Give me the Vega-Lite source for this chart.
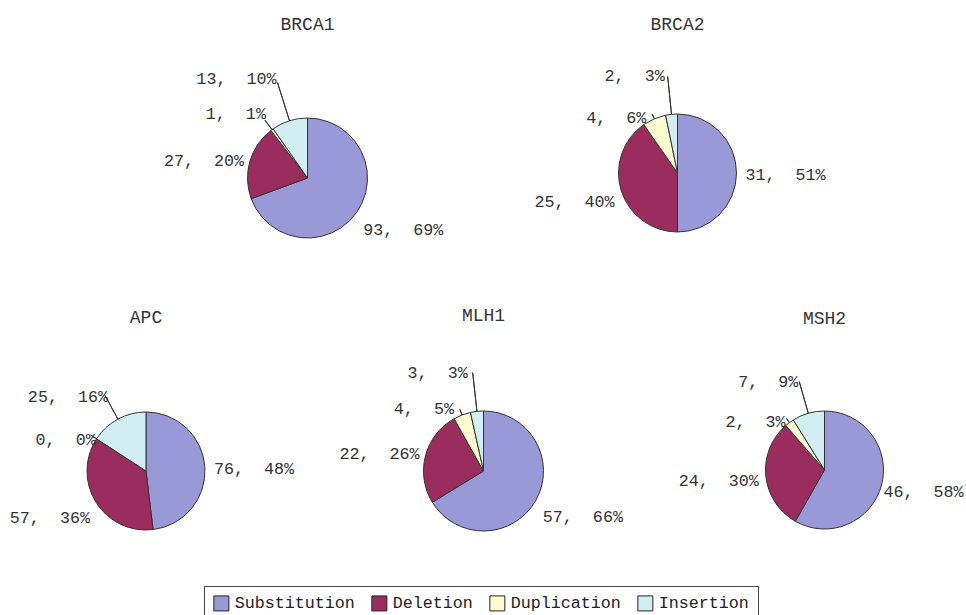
{
  "$schema": "https://vega.github.io/schema/vega-lite/v6.json",
  "padding": 0,
  "autosize": {"type": "pad"},
  "background": "white",
  "bounds": "flush",
  "align": "each",
  "spacing": 0,
  "columns": 3,
  "data": {
    "values": [
      {"gene": "BRCA1", "type": "Substitution", "count": 93, "label": "93,\u00a0 69%"},
      {"gene": "BRCA1", "type": "Deletion", "count": 27, "label": "27,\u00a0 20%"},
      {"gene": "BRCA1", "type": "Duplication", "count": 1, "label": "1,\u00a0 1%"},
      {"gene": "BRCA1", "type": "Insertion", "count": 13, "label": "13,\u00a0 10%"},
      {"gene": "BRCA2", "type": "Substitution", "count": 31, "label": "31,\u00a0 51%"},
      {"gene": "BRCA2", "type": "Deletion", "count": 25, "label": "25,\u00a0 40%"},
      {"gene": "BRCA2", "type": "Duplication", "count": 4, "label": "4,\u00a0 6%"},
      {"gene": "BRCA2", "type": "Insertion", "count": 2, "label": "2,\u00a0 3%"},
      {"gene": "APC", "type": "Substitution", "count": 76, "label": "76,\u00a0 48%"},
      {"gene": "APC", "type": "Deletion", "count": 57, "label": "57,\u00a0 36%"},
      {"gene": "APC", "type": "Duplication", "count": 0, "label": "0,\u00a0 0%"},
      {"gene": "APC", "type": "Insertion", "count": 25, "label": "25,\u00a0 16%"},
      {"gene": "MLH1", "type": "Substitution", "count": 57, "label": "57,\u00a0 66%"},
      {"gene": "MLH1", "type": "Deletion", "count": 22, "label": "22,\u00a0 26%"},
      {"gene": "MLH1", "type": "Duplication", "count": 4, "label": "4,\u00a0 5%"},
      {"gene": "MLH1", "type": "Insertion", "count": 3, "label": "3,\u00a0 3%"},
      {"gene": "MSH2", "type": "Substitution", "count": 46, "label": "46,\u00a0 58%"},
      {"gene": "MSH2", "type": "Deletion", "count": 24, "label": "24,\u00a0 30%"},
      {"gene": "MSH2", "type": "Duplication", "count": 2, "label": "2,\u00a0 3%"},
      {"gene": "MSH2", "type": "Insertion", "count": 7, "label": "7,\u00a0 9%"}
    ]
  },
  "transform": [{"window": [{"op": "row_number", "as": "k"}], "groupby": ["gene"]}],
  "config": {
    "view": {"stroke": null},
    "font": "Liberation Mono",
    "title": {"font": "Liberation Mono", "fontSize": 18, "fontWeight": "normal", "color": "#333", "anchor": "middle"}
  },
  "resolve": {"scale": {"color": "shared"}},
  "concat": [
    {
      "width": 10, "height": 356,
      "data": {"values": []},
      "mark": {"type": "text"},
      "encoding": {"text": {"value": ""}}
    },
    {
      "width": 31, "height": 356,
      "title": {"text": "BRCA1", "offset": -43, "baseline": "middle"},
      "transform": [{"filter": "datum.gene === 'BRCA1'"}],
      "encoding": {"theta": {"field": "count", "type": "quantitative", "stack": true}, "order": {"field": "k", "type": "quantitative"}},
      "layer": [
        {"mark": {"type": "arc", "radius": 60, "stroke": "#333", "strokeWidth": 1},
         "encoding": {"color": {"field": "type", "type": "nominal", "scale": {"domain": ["Substitution", "Deletion", "Duplication", "Insertion"], "range": ["#9a99d8", "#9b2c5e", "#fdfacf", "#d3eef2"]}, "legend": {"orient": "none", "legendX": 204, "legendY": 586, "direction": "horizontal", "title": null, "symbolType": "square", "symbolSize": 225, "symbolStrokeColor": "#222", "symbolStrokeWidth": 1, "symbolOpacity": 1, "labelFont": "Liberation Mono", "labelFontSize": 16.7, "labelColor": "#222", "labelOffset": 5, "columnPadding": 14, "padding": 9, "strokeColor": "#444", "fillColor": "white"}}}},
        {"mark": {"type": "arc", "radius": 100, "radius2": 60, "padAngle": 3.1, "filled": false, "stroke": "#333", "strokeWidth": 1},
         "encoding": {"strokeOpacity": {"condition": {"test": "datum.type === 'Insertion'", "value": 1}, "value": 0}}},
        {"mark": {"type": "arc", "radius": 72, "radius2": 60, "padAngle": 3.1, "filled": false, "stroke": "#333", "strokeWidth": 1},
         "encoding": {"strokeOpacity": {"condition": {"test": "datum.type === 'Duplication'", "value": 1}, "value": 0}}},
        {"mark": {"type": "text", "radius": 68, "align": "left", "baseline": "middle", "dy": 13, "font": "Liberation Mono", "fontSize": 16.7, "color": "#333"},
         "encoding": {"text": {"condition": {"test": "datum.type === 'Substitution'", "field": "label"}, "value": ""}}},
        {"mark": {"type": "text", "radius": 66, "align": "right", "baseline": "middle", "dy": 1, "font": "Liberation Mono", "fontSize": 16.7, "color": "#333"},
         "encoding": {"text": {"condition": {"test": "datum.type === 'Deletion'", "field": "label"}, "value": ""}}},
        {"mark": {"type": "text", "radius": 72, "align": "right", "baseline": "middle", "dx": 1, "dy": -6, "font": "Liberation Mono", "fontSize": 16.7, "color": "#333"},
         "encoding": {"text": {"condition": {"test": "datum.type === 'Duplication'", "field": "label"}, "value": ""}}},
        {"mark": {"type": "text", "radius": 100, "align": "right", "baseline": "middle", "dx": -1, "dy": -4, "font": "Liberation Mono", "fontSize": 16.7, "color": "#333"},
         "encoding": {"text": {"condition": {"test": "datum.type === 'Insertion'", "field": "label"}, "value": ""}}}
      ]
    },
    {
      "width": 5, "height": 346,
      "title": {"text": "BRCA2", "offset": -43, "baseline": "middle"},
      "transform": [{"filter": "datum.gene === 'BRCA2'"}],
      "encoding": {"theta": {"field": "count", "type": "quantitative", "stack": true}, "order": {"field": "k", "type": "quantitative"}},
      "layer": [
        {"mark": {"type": "arc", "radius": 59, "stroke": "#333", "strokeWidth": 1},
         "encoding": {"color": {"field": "type", "type": "nominal", "scale": {"domain": ["Substitution", "Deletion", "Duplication", "Insertion"], "range": ["#9a99d8", "#9b2c5e", "#fdfacf", "#d3eef2"]}, "legend": {"orient": "none", "legendX": 204, "legendY": 586, "direction": "horizontal", "title": null, "symbolType": "square", "symbolSize": 225, "symbolStrokeColor": "#222", "symbolStrokeWidth": 1, "symbolOpacity": 1, "labelFont": "Liberation Mono", "labelFontSize": 16.7, "labelColor": "#222", "labelOffset": 5, "columnPadding": 14, "padding": 9, "strokeColor": "#444", "fillColor": "white"}}}},
        {"mark": {"type": "arc", "radius": 97, "radius2": 59, "padAngle": 3.1, "filled": false, "stroke": "#333", "strokeWidth": 1},
         "encoding": {"strokeOpacity": {"condition": {"test": "datum.type === 'Insertion'", "value": 1}, "value": 0}}},
        {"mark": {"type": "arc", "radius": 64, "radius2": 59, "padAngle": 3.1, "filled": false, "stroke": "#333", "strokeWidth": 1},
         "encoding": {"strokeOpacity": {"condition": {"test": "datum.type === 'Duplication'", "value": 1}, "value": 0}}},
        {"mark": {"type": "text", "radius": 68, "align": "left", "baseline": "middle", "dy": 2, "font": "Liberation Mono", "fontSize": 16.7, "color": "#333"},
         "encoding": {"text": {"condition": {"test": "datum.type === 'Substitution'", "field": "label"}, "value": ""}}},
        {"mark": {"type": "text", "radius": 66, "align": "right", "baseline": "middle", "dy": 9, "font": "Liberation Mono", "fontSize": 16.7, "color": "#333"},
         "encoding": {"text": {"condition": {"test": "datum.type === 'Deletion'", "field": "label"}, "value": ""}}},
        {"mark": {"type": "text", "radius": 64, "align": "right", "baseline": "middle", "dx": -6, "dy": 4, "font": "Liberation Mono", "fontSize": 16.7, "color": "#333"},
         "encoding": {"text": {"condition": {"test": "datum.type === 'Duplication'", "field": "label"}, "value": ""}}},
        {"mark": {"type": "text", "radius": 97, "align": "right", "baseline": "middle", "dx": -3, "font": "Liberation Mono", "fontSize": 16.7, "color": "#333"},
         "encoding": {"text": {"condition": {"test": "datum.type === 'Insertion'", "field": "label"}, "value": ""}}}
      ]
    },
    {
      "width": 292, "height": 230,
      "title": {"text": "APC", "offset": 20, "baseline": "middle"},
      "transform": [{"filter": "datum.gene === 'APC'"}],
      "encoding": {"theta": {"field": "count", "type": "quantitative", "stack": true}, "order": {"field": "k", "type": "quantitative"}},
      "layer": [
        {"mark": {"type": "arc", "radius": 59, "stroke": "#333", "strokeWidth": 1},
         "encoding": {"color": {"field": "type", "type": "nominal", "scale": {"domain": ["Substitution", "Deletion", "Duplication", "Insertion"], "range": ["#9a99d8", "#9b2c5e", "#fdfacf", "#d3eef2"]}, "legend": {"orient": "none", "legendX": 204, "legendY": 586, "direction": "horizontal", "title": null, "symbolType": "square", "symbolSize": 225, "symbolStrokeColor": "#222", "symbolStrokeWidth": 1, "symbolOpacity": 1, "labelFont": "Liberation Mono", "labelFontSize": 16.7, "labelColor": "#222", "labelOffset": 5, "columnPadding": 14, "padding": 9, "strokeColor": "#444", "fillColor": "white"}}}},
        {"mark": {"type": "arc", "radius": 86, "radius2": 59, "padAngle": 3.1, "filled": false, "stroke": "#333", "strokeWidth": 1},
         "encoding": {"strokeOpacity": {"condition": {"test": "datum.type === 'Insertion'", "value": 1}, "value": 0}}},
        {"mark": {"type": "arc", "radius": 66, "radius2": 59, "padAngle": 3.1, "filled": false, "stroke": "#333", "strokeWidth": 1},
         "encoding": {"strokeOpacity": {"condition": {"test": "datum.type === 'Duplication'", "value": 1}, "value": 0}}},
        {"mark": {"type": "text", "radius": 68, "align": "left", "baseline": "middle", "dy": 2, "font": "Liberation Mono", "fontSize": 16.7, "color": "#333"},
         "encoding": {"text": {"condition": {"test": "datum.type === 'Substitution'", "field": "label"}, "value": ""}}},
        {"mark": {"type": "text", "radius": 66, "align": "right", "baseline": "middle", "dy": 12, "font": "Liberation Mono", "fontSize": 16.7, "color": "#333"},
         "encoding": {"text": {"condition": {"test": "datum.type === 'Deletion'", "field": "label"}, "value": ""}}},
        {"mark": {"type": "text", "radius": 66, "align": "right", "baseline": "middle", "dx": 5, "dy": 5, "font": "Liberation Mono", "fontSize": 16.7, "color": "#333"},
         "encoding": {"text": {"condition": {"test": "datum.type === 'Duplication'", "field": "label"}, "value": ""}}},
        {"mark": {"type": "text", "radius": 86, "align": "right", "baseline": "middle", "dx": 3, "dy": 2, "font": "Liberation Mono", "fontSize": 16.7, "color": "#333"},
         "encoding": {"text": {"condition": {"test": "datum.type === 'Insertion'", "field": "label"}, "value": ""}}}
      ]
    },
    {
      "width": 383, "height": 230,
      "title": {"text": "MLH1", "offset": 22, "baseline": "middle"},
      "transform": [{"filter": "datum.gene === 'MLH1'"}],
      "encoding": {"theta": {"field": "count", "type": "quantitative", "stack": true}, "order": {"field": "k", "type": "quantitative"}},
      "layer": [
        {"mark": {"type": "arc", "radius": 60, "stroke": "#333", "strokeWidth": 1},
         "encoding": {"color": {"field": "type", "type": "nominal", "scale": {"domain": ["Substitution", "Deletion", "Duplication", "Insertion"], "range": ["#9a99d8", "#9b2c5e", "#fdfacf", "#d3eef2"]}, "legend": {"orient": "none", "legendX": 204, "legendY": 586, "direction": "horizontal", "title": null, "symbolType": "square", "symbolSize": 225, "symbolStrokeColor": "#222", "symbolStrokeWidth": 1, "symbolOpacity": 1, "labelFont": "Liberation Mono", "labelFontSize": 16.7, "labelColor": "#222", "labelOffset": 5, "columnPadding": 14, "padding": 9, "strokeColor": "#444", "fillColor": "white"}}}},
        {"mark": {"type": "arc", "radius": 99, "radius2": 60, "padAngle": 3.1, "filled": false, "stroke": "#333", "strokeWidth": 1},
         "encoding": {"strokeOpacity": {"condition": {"test": "datum.type === 'Insertion'", "value": 1}, "value": 0}}},
        {"mark": {"type": "arc", "radius": 66, "radius2": 60, "padAngle": 3.1, "filled": false, "stroke": "#333", "strokeWidth": 1},
         "encoding": {"strokeOpacity": {"condition": {"test": "datum.type === 'Duplication'", "value": 1}, "value": 0}}},
        {"mark": {"type": "text", "radius": 68, "align": "left", "baseline": "middle", "dy": 13, "font": "Liberation Mono", "fontSize": 16.7, "color": "#333"},
         "encoding": {"text": {"condition": {"test": "datum.type === 'Substitution'", "field": "label"}, "value": ""}}},
        {"mark": {"type": "text", "radius": 66, "align": "right", "baseline": "middle", "dy": 0, "font": "Liberation Mono", "fontSize": 16.7, "color": "#333"},
         "encoding": {"text": {"condition": {"test": "datum.type === 'Deletion'", "field": "label"}, "value": ""}}},
        {"mark": {"type": "text", "radius": 66, "align": "right", "baseline": "middle", "dx": -6, "font": "Liberation Mono", "fontSize": 16.7, "color": "#333"},
         "encoding": {"text": {"condition": {"test": "datum.type === 'Duplication'", "field": "label"}, "value": ""}}},
        {"mark": {"type": "text", "radius": 99, "align": "right", "baseline": "middle", "dx": -5, "font": "Liberation Mono", "fontSize": 16.7, "color": "#333"},
         "encoding": {"text": {"condition": {"test": "datum.type === 'Insertion'", "field": "label"}, "value": ""}}}
      ]
    },
    {
      "width": 299, "height": 228,
      "title": {"text": "MSH2", "offset": 19, "baseline": "middle"},
      "transform": [{"filter": "datum.gene === 'MSH2'"}],
      "encoding": {"theta": {"field": "count", "type": "quantitative", "stack": true}, "order": {"field": "k", "type": "quantitative"}},
      "layer": [
        {"mark": {"type": "arc", "radius": 59, "stroke": "#333", "strokeWidth": 1},
         "encoding": {"color": {"field": "type", "type": "nominal", "scale": {"domain": ["Substitution", "Deletion", "Duplication", "Insertion"], "range": ["#9a99d8", "#9b2c5e", "#fdfacf", "#d3eef2"]}, "legend": {"orient": "none", "legendX": 204, "legendY": 586, "direction": "horizontal", "title": null, "symbolType": "square", "symbolSize": 225, "symbolStrokeColor": "#222", "symbolStrokeWidth": 1, "symbolOpacity": 1, "labelFont": "Liberation Mono", "labelFontSize": 16.7, "labelColor": "#222", "labelOffset": 5, "columnPadding": 14, "padding": 9, "strokeColor": "#444", "fillColor": "white"}}}},
        {"mark": {"type": "arc", "radius": 92, "radius2": 59, "padAngle": 3.1, "filled": false, "stroke": "#333", "strokeWidth": 1},
         "encoding": {"strokeOpacity": {"condition": {"test": "datum.type === 'Insertion'", "value": 1}, "value": 0}}},
        {"mark": {"type": "arc", "radius": 64, "radius2": 59, "padAngle": 3.1, "filled": false, "stroke": "#333", "strokeWidth": 1},
         "encoding": {"strokeOpacity": {"condition": {"test": "datum.type === 'Duplication'", "value": 1}, "value": 0}}},
        {"mark": {"type": "text", "radius": 61, "align": "left", "baseline": "middle", "dy": 6, "font": "Liberation Mono", "fontSize": 16.7, "color": "#333"},
         "encoding": {"text": {"condition": {"test": "datum.type === 'Substitution'", "field": "label"}, "value": ""}}},
        {"mark": {"type": "text", "radius": 66, "align": "right", "baseline": "middle", "dy": 4, "font": "Liberation Mono", "fontSize": 16.7, "color": "#333"},
         "encoding": {"text": {"condition": {"test": "datum.type === 'Deletion'", "field": "label"}, "value": ""}}},
        {"mark": {"type": "text", "radius": 64, "align": "right", "baseline": "middle", "dx": -1, "dy": 3, "font": "Liberation Mono", "fontSize": 16.7, "color": "#333"},
         "encoding": {"text": {"condition": {"test": "datum.type === 'Duplication'", "field": "label"}, "value": ""}}},
        {"mark": {"type": "text", "radius": 92, "align": "right", "baseline": "middle", "dx": -1, "font": "Liberation Mono", "fontSize": 16.7, "color": "#333"},
         "encoding": {"text": {"condition": {"test": "datum.type === 'Insertion'", "field": "label"}, "value": ""}}}
      ]
    }
  ]
}
